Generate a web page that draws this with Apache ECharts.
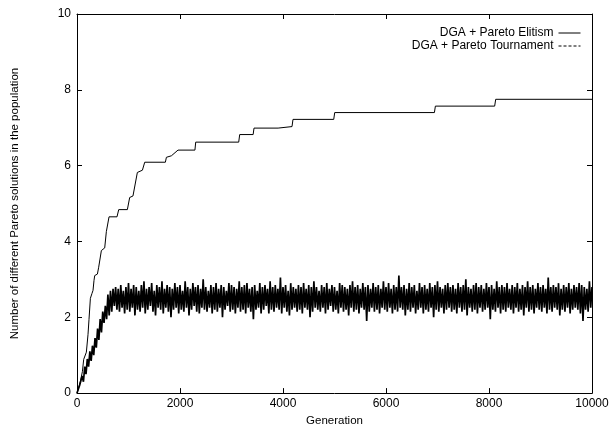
<!DOCTYPE html>
<html>
<head>
<meta charset="utf-8">
<script src="https://cdn.jsdelivr.net/npm/echarts@6/dist/echarts.min.js"></script>
<style>html,body{margin:0;padding:0;background:#fff}#c{width:614px;height:432px}</style>
</head>
<body>
<div id="c"></div>
<script>
// Elitism: step-like curve [generation, value]
var elitismGen = [0, 66, 105, 130, 182, 214, 233, 260, 291, 311, 330, 344, 396, 421, 473, 538, 570, 622, 777, 810, 978, 1023, 1087, 1172, 1270, 1315, 1716, 1736, 1833, 1961, 2290, 2305, 3140, 3159, 3420, 3437, 3905, 3922, 4175, 4194, 4985, 5004, 6940, 6959, 8110, 8130, 10000];
var elitismVal = [0, 0.31, 0.57, 0.89, 1.08, 1.55, 1.94, 2.5, 2.63, 2.71, 2.97, 3.1, 3.14, 3.32, 3.76, 3.83, 4.26, 4.65, 4.65, 4.84, 4.84, 5.16, 5.2, 5.82, 5.88, 6.09, 6.09, 6.22, 6.26, 6.41, 6.41, 6.62, 6.62, 6.82, 6.82, 6.99, 6.99, 7.03, 7.03, 7.22, 7.22, 7.40, 7.40, 7.57, 7.57, 7.75, 7.75];

// Tournament: one sample every 25 generations (0 .. 10000)
var tournamentStep = 25;
var tournamentVal = [
0, 0.05, 0.2, 0.15, 0.45, 0.3, 0.7, 0.5, 0.9, 0.7, 1.1, 0.85, 1.25, 1.0, 1.45, 1.2, 1.7, 1.4, 1.95, 1.6, 2.15, 1.85, 2.3, 1.95, 2.6, 2.05, 2.7, 2.15, 2.75,
2.3, 2.8, 2.2, 2.75, 2.15, 2.85, 2.25, 2.7, 2.1, 2.8, 2.2, 2.9, 2.15, 2.75, 2.25, 2.85, 2.05, 2.8, 2.2, 2.7,
2.15, 2.85, 2.25, 2.95, 2.1, 2.75, 2.2, 2.8, 2.3, 2.9, 2.15, 2.7, 2.05, 2.85, 2.25, 2.8, 2.2, 2.95, 2.1, 2.75,
2.25, 2.85, 2.15, 2.8, 2.0, 2.75, 2.2, 2.9, 2.25, 2.8, 2.1, 2.85, 2.2, 2.7, 2.15, 2.95, 2.25, 2.8, 2.05, 2.75,
2.2, 2.9, 2.3, 2.8, 2.15, 2.85, 2.1, 2.75, 2.25, 3.0, 2.2, 2.8, 2.15, 2.7, 2.25, 2.85, 2.1, 2.8, 2.2, 2.9,
2.15, 2.75, 2.25, 2.85, 2.0, 2.8, 2.2, 2.7, 2.3, 2.9, 2.15, 2.85, 2.2, 2.8, 2.1, 2.75, 2.25, 2.95, 2.15, 2.8,
2.2, 2.85, 2.1, 2.9, 2.25, 2.75, 2.15, 2.8, 1.95, 2.85, 2.2, 2.7, 2.25, 2.9, 2.1, 2.8, 2.2, 2.85, 2.3, 2.75,
2.1, 2.95, 2.2, 2.8, 2.15, 2.85, 2.25, 2.75, 2.2, 3.05, 2.1, 2.8, 2.25, 2.85, 2.15, 2.7, 2.05, 2.9, 2.2, 2.8,
2.25, 2.75, 2.15, 2.85, 2.2, 2.8, 2.1, 2.9, 2.25, 2.75, 2.2, 2.85, 2.0, 2.8, 2.15, 2.95, 2.25, 2.8, 2.2, 2.7,
2.15, 2.85, 2.25, 2.8, 2.1, 2.9, 2.2, 2.75, 2.3, 2.85, 2.15, 2.8, 2.2, 2.7, 2.1, 2.9, 2.25, 2.85, 2.15, 2.8,
2.2, 2.75, 2.05, 2.85, 2.25, 2.95, 2.15, 2.8, 2.2, 2.85, 2.1, 2.75, 2.25, 2.9, 2.2, 2.8, 1.9, 2.85, 2.15, 2.75,
2.25, 2.9, 2.15, 2.8, 2.2, 2.85, 2.1, 2.75, 2.25, 2.95, 2.2, 2.8, 2.15, 2.9, 2.25, 2.75, 2.1, 2.85, 2.2, 2.8,
2.15, 3.1, 2.25, 2.8, 2.2, 2.85, 2.05, 2.75, 2.2, 2.9, 2.15, 2.8, 2.25, 2.85, 2.1, 2.7, 2.2, 2.9, 2.25, 2.8,
2.1, 2.85, 2.2, 2.75, 2.15, 2.9, 2.25, 2.8, 2.0, 2.85, 2.2, 2.95, 2.15, 2.8, 2.25, 2.75, 2.1, 2.85, 2.2, 2.9,
2.25, 2.8, 2.15, 2.85, 2.2, 2.75, 2.1, 2.9, 2.25, 2.8, 2.15, 2.85, 2.2, 3.0, 2.05, 2.8, 2.25, 2.75, 2.15, 2.85,
2.2, 2.9, 2.1, 2.8, 2.25, 2.85, 2.15, 2.75, 2.2, 2.9, 2.25, 2.8, 1.95, 2.85, 2.2, 2.75, 2.15, 2.95, 2.25, 2.8,
2.1, 2.85, 2.2, 2.8, 2.15, 2.9, 2.25, 2.75, 2.2, 2.85, 2.1, 2.8, 2.25, 2.9, 2.15, 2.75, 2.2, 2.85, 2.05, 2.8,
2.25, 2.95, 2.15, 2.8, 2.2, 2.85, 2.1, 2.75, 2.25, 2.9, 2.2, 2.8, 2.15, 2.85, 2.25, 2.75, 2.1, 3.05, 2.2, 2.8,
2.15, 2.85, 2.25, 2.8, 2.2, 2.9, 2.05, 2.75, 2.2, 2.85, 2.15, 2.8, 2.25, 2.9, 2.1, 2.75, 2.2, 2.85, 2.25, 2.8,
2.2, 2.9, 2.1, 2.85, 1.9, 2.8, 2.2, 2.75, 2.15, 2.95, 2.25, 2.8
];

var xTicks = [0, 2000, 4000, 6000, 8000, 10000];
var yTicks = [0, 2, 4, 6, 8, 10];
var seriesNames = ['DGA + Pareto Elitism', 'DGA + Pareto Tournament'];

var elitismData = elitismGen.map(function (g, i) { return [g, elitismVal[i]]; });
var tournamentData = tournamentVal.map(function (v, i) { return [i * tournamentStep, v]; });

var font = 'Liberation Sans, Arial, Helvetica, sans-serif';
function axisLine() { return {show: true, onZero: false, lineStyle: {color: '#000', width: 1}}; }
function tick() { return {show: true, inside: true, length: 5, lineStyle: {color: '#000', width: 1}}; }

var chart = echarts.init(document.getElementById('c'), null, {renderer: 'canvas'});
chart.setOption({
  animation: false,
  backgroundColor: '#fff',
  textStyle: {fontFamily: font},
  grid: {left: 77, right: 22, top: 14, bottom: 31, containLabel: false},
  legend: {
    orient: 'vertical', right: 28, top: 22, align: 'right',
    itemWidth: 22, itemHeight: 9, itemGap: 1,
    textStyle: {fontFamily: font, fontSize: 12, color: '#000'},
    itemStyle: {opacity: 0},
    lineStyle: {width: 1, color: '#000'},
    data: [
      {name: seriesNames[0], lineStyle: {width: 1, color: '#000', type: 'solid'}},
      {name: seriesNames[1], lineStyle: {width: 1, color: '#000', type: [3, 2]}}
    ]
  },
  xAxis: [
    {type: 'value', gridIndex: 0, min: 0, max: 10000, interval: 2000, position: 'bottom',
     name: 'Generation', nameLocation: 'middle', nameGap: 17,
     nameTextStyle: {fontFamily: font, fontSize: 11.5, color: '#000'},
     axisLine: axisLine(), axisTick: tick(), splitLine: {show: false},
     axisLabel: {fontFamily: font, fontSize: 12, color: '#000', margin: 5,
       formatter: function (v) { return xTicks.indexOf(v) >= 0 ? String(v) : ''; }}},
    {type: 'value', gridIndex: 0, min: 0, max: 10000, interval: 2000, position: 'top',
     axisLine: axisLine(), axisTick: tick(), splitLine: {show: false}, axisLabel: {show: false}}
  ],
  yAxis: [
    {type: 'value', gridIndex: 0, min: 0, max: 10, interval: 2, position: 'left',
     name: 'Number of different Pareto solutions in the population', nameLocation: 'middle', nameGap: 56,
     nameTextStyle: {fontFamily: font, fontSize: 11.5, color: '#000'},
     axisLine: axisLine(), axisTick: tick(), splitLine: {show: false},
     axisLabel: {fontFamily: font, fontSize: 12, color: '#000', margin: 6,
       formatter: function (v) { return yTicks.indexOf(v) >= 0 ? String(v) : ''; }}},
    {type: 'value', gridIndex: 0, min: 0, max: 10, interval: 2, position: 'right',
     axisLine: axisLine(), axisTick: tick(), splitLine: {show: false}, axisLabel: {show: false}}
  ],
  series: [
    {name: seriesNames[0], type: 'line', data: elitismData, symbol: 'none', showSymbol: false,
     xAxisIndex: 0, yAxisIndex: 0,
     lineStyle: {color: '#000', width: 1}, itemStyle: {color: '#000'}},
    {name: seriesNames[1], type: 'line', data: tournamentData, symbol: 'none', showSymbol: false,
     xAxisIndex: 0, yAxisIndex: 0,
     lineStyle: {color: '#000', width: 1.7, type: 'solid'}, itemStyle: {color: '#000'}},
    {name: 'frame', type: 'line', data: [], xAxisIndex: 1, yAxisIndex: 1, symbol: 'none'}
  ]
});
</script>
</body>
</html>
